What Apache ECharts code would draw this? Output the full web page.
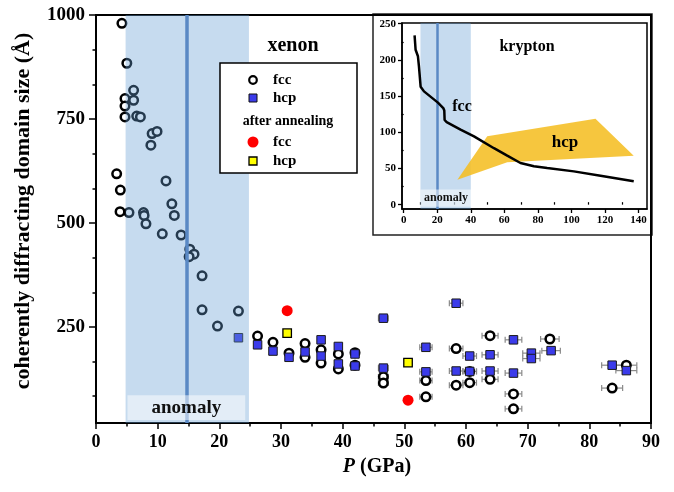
<!DOCTYPE html>
<html><head><meta charset="utf-8">
<script src="https://cdn.jsdelivr.net/npm/echarts@6/dist/echarts.min.js"></script>
<style>html,body{margin:0;padding:0;background:#fff}#c{width:674px;height:492px}</style>
</head><body><div id="c"></div>
<script>
// ---------- main (xenon) data ----------
const fccP   = [4.2,5.0,6.1,4.7,6.1,4.7,4.7,6.6,7.2,9.1,9.9,8.9,3.35,3.95,3.9,5.35,7.7,7.8,8.1,11.35,12.3,12.7,10.75,13.8,15.2,15.9,15.1,17.2,17.2,23.1,19.7,26.2,28.7,31.3,33.9,33.9,36.5,36.5,39.3,39.3,42.0,42.0,46.6,46.6,53.5,53.5,58.4,58.4,60.6,60.6,63.9,63.9,67.7,67.7,73.6,83.7,86.0];
const fccD   = [980,884,819,799,795,781,755,757,755,715,720,687,618,579,527,525,525,518,498,601,546,518,474,471,437,425,419,373,291,288,252,228,213,187,210,177,195,163,185,149,188,158,130,115,121,82,198,110,143,116,229,124,89,53,221,103,158];
const fccErr = [0,0,0,0,0,0,0,0,0,0,0,0,0,0,0,0,0,0,0,0,0,0,0,0,0,0,0,0,0,0,0,0,0,0.4,0.4,0.4,0.5,0.5,0.5,0.5,0.6,0.6,0.8,0.8,1.0,1.0,1.1,1.1,1.1,1.1,1.3,1.3,1.35,1.35,1.5,1.7,1.7];
const hcpP   = [23.1,26.2,28.7,31.3,33.9,36.5,36.5,39.3,39.3,42.0,42.0,46.6,46.6,53.5,53.5,58.4,58.4,60.6,60.6,63.9,63.9,67.7,67.7,70.6,70.6,73.8,83.7,86.0];
const hcpD   = [224,207,192,177,190,219,180,203,161,185,156,271,151,201,142,307,144,180,143,183,144,219,139,187,174,193,158,145];
const hcpErr = [0,0,0,0.4,0.4,0.5,0.5,0.5,0.5,0.6,0.6,0.8,0.8,1.0,1.0,1.1,1.1,1.1,1.1,1.3,1.3,1.35,1.35,1.4,1.4,1.5,1.7,1.7];
const annFccP = [31.0,50.6];
const annFccD = [289,74];
const annHcpP = [31.0,50.6];
const annHcpD = [235,164];
const yTicks = [250,500,750,1000];
const yMinor = [83.33,166.67,333.33,416.67,583.33,666.67,833.33,916.67];
const anomalyBand = [4.8,24.8];
const anomalyLine = 14.7;

// ---------- inset (krypton) data ----------
const krP = [6.5,7.1,8.5,9.1,10.1,12.1,20.4,23.6,24.2,24.4,25.6,33.9,41.9,53.8,61.7,69.6,77.6,85.5,101.4,117.3,137.1];
const krD = [234,214,205,191,163,156.5,141,133.5,130,117,114,103.6,94.4,78,67.7,57.6,53,50.6,46,40,32.2];
const hcpRegionP = [32,49.8,114.3,137.1,61.7];
const hcpRegionD = [34.5,94.4,118.8,67.7,58.5];
const insetXTicks = [0,20,40,60,80,100,120,140];
const insetXMinor = [10,30,50,70,90,110,130];
const insetYTicks = [0,50,100,150,200,250];
const insetYMinor = [25,75,125,175,225];
const insetBand = [10,40];
const insetLine = 20;

const FF = '"Liberation Serif","Times New Roman",serif';
const zip3 = (a,b,c) => a.map((v,i)=>[v,b[i],c ? c[i] : 0]);
const bandColor = 'rgba(100,157,211,0.37)';
const lineColor = '#5a89c4';
const plain = v => String(v);

function errRender(params, api){
  const p = api.value(0), d = api.value(1), e = api.value(2);
  const a = api.coord([p-e,d]), b = api.coord([p+e,d]);
  const h = 3;
  const style = {stroke:'#8a8a8a', lineWidth:1.2};
  return {type:'group', children:[
    {type:'line', shape:{x1:a[0],y1:a[1],x2:b[0],y2:b[1]}, style},
    {type:'line', shape:{x1:a[0],y1:a[1]-h,x2:a[0],y2:a[1]+h}, style},
    {type:'line', shape:{x1:b[0],y1:b[1]-h,x2:b[0],y2:b[1]+h}, style}
  ]};
}

const axisLineMain = {show:true, onZero:false, lineStyle:{color:'#000', width:2}};
const axisLineInset = {show:true, onZero:false, lineStyle:{color:'#000', width:1.5}};
const labMain = {fontFamily:FF, fontWeight:'bold', fontSize:19, color:'#000', formatter:plain};
const labInset = {fontFamily:FF, fontWeight:'bold', fontSize:11, color:'#000', formatter:plain};

const option = {
  animation:false,
  backgroundColor:'#fff',
  grid:[
    {left:96, top:15, width:555, height:408, show:true, borderColor:'#000', borderWidth:2, backgroundColor:'transparent'},
    {left:402, top:23, width:245, height:186, show:true, borderColor:'#000', borderWidth:1.5, backgroundColor:'#fff'}
  ],
  xAxis:[
    {gridIndex:0, type:'value', min:0, max:90, interval:10,
     axisLine:axisLineMain,
     axisTick:{show:true, inside:false, length:6, lineStyle:{color:'#000', width:1.5}},
     minorTick:{show:true, splitNumber:2, length:3.5, lineStyle:{color:'#000', width:1.5}},
     axisLabel:Object.assign({margin:10}, labMain, {fontSize:18}),
     splitLine:{show:false}, minorSplitLine:{show:false}},
    {gridIndex:1, type:'value', min:-1, max:145,
     axisLine:axisLineInset,
     axisTick:{show:true, customValues:insetXTicks, length:4, lineStyle:{color:'#000', width:1.3}},
     axisLabel:Object.assign({customValues:insetXTicks, margin:6}, labInset),
     splitLine:{show:false}},
    {gridIndex:1, type:'value', min:-1, max:145,
     axisLine:{show:false},
     axisTick:{show:true, customValues:insetXMinor, length:2.5, lineStyle:{color:'#000', width:1.2}},
     axisLabel:{show:false}, splitLine:{show:false}}
  ],
  yAxis:[
    {gridIndex:0, type:'value', min:19, max:1000, position:'left',
     axisLine:axisLineMain,
     axisTick:{show:true, customValues:yTicks, length:7, lineStyle:{color:'#000', width:1.5}},
     axisLabel:Object.assign({customValues:yTicks, margin:11}, labMain),
     splitLine:{show:false}},
    {gridIndex:0, type:'value', min:19, max:1000, position:'left', offset:0,
     axisLine:{show:false},
     axisTick:{show:true, customValues:yMinor, length:3.5, lineStyle:{color:'#000', width:1.5}},
     axisLabel:{show:false}, splitLine:{show:false}},
    {gridIndex:1, type:'value', min:-6, max:251, position:'left',
     axisLine:axisLineInset,
     axisTick:{show:true, customValues:insetYTicks, length:4, lineStyle:{color:'#000', width:1.3}},
     axisLabel:Object.assign({customValues:insetYTicks, margin:6}, labInset),
     splitLine:{show:false}},
    {gridIndex:1, type:'value', min:-6, max:251, position:'left', offset:0,
     axisLine:{show:false},
     axisTick:{show:true, customValues:insetYMinor, length:2.5, lineStyle:{color:'#000', width:1.2}},
     axisLabel:{show:false}, splitLine:{show:false}}
  ],
  series:[
    {type:'custom', xAxisIndex:0, yAxisIndex:0, z:1, renderItem:errRender,
     encode:{x:0,y:1}, data: zip3(fccP,fccD,fccErr).filter(r=>r[2]>0)},
    {type:'custom', xAxisIndex:0, yAxisIndex:0, z:1, renderItem:errRender,
     encode:{x:0,y:1}, data: zip3(hcpP,hcpD,hcpErr).filter(r=>r[2]>0)},
    {type:'scatter', xAxisIndex:0, yAxisIndex:0, z:2, symbol:'circle', symbolSize:8.5,
     itemStyle:{color:'#fff', borderColor:'#000', borderWidth:2.5, opacity:1},
     data: fccP.map((p,i)=>[p,fccD[i]])},
    {type:'scatter', xAxisIndex:0, yAxisIndex:0, z:3, symbol:'rect', symbolSize:8.5,
     itemStyle:{color:'#3b3bea', borderColor:'#1a1a1a', borderWidth:1, opacity:1},
     data: hcpP.map((p,i)=>[p,hcpD[i]])},
    {type:'scatter', xAxisIndex:0, yAxisIndex:0, z:3, symbol:'circle', symbolSize:11,
     itemStyle:{color:'#ff0000', opacity:1},
     data: annFccP.map((p,i)=>[p,annFccD[i]])},
    {type:'scatter', xAxisIndex:0, yAxisIndex:0, z:3, symbol:'rect', symbolSize:8.5,
     itemStyle:{color:'#ffff00', borderColor:'#000', borderWidth:1.3, opacity:1},
     data: annHcpP.map((p,i)=>[p,annHcpD[i]])},
    // anomaly band (over the points, translucent)
    {type:'scatter', xAxisIndex:0, yAxisIndex:0, z:10, data:[],
     markArea:{z:10, silent:true, itemStyle:{color:bandColor}, label:{show:false},
       data:[[{xAxis:anomalyBand[0]},{xAxis:anomalyBand[1]}]]},
     markLine:{z:11, silent:true, symbol:['none','none'], label:{show:false},
       lineStyle:{color:lineColor, width:3.5, type:'solid'},
       data:[{xAxis:anomalyLine}]}},
    {type:'scatter', xAxisIndex:0, yAxisIndex:0, z:12, data:[],
     markArea:{z:12, silent:true, itemStyle:{color:'rgba(255,255,255,0.5)'},
       label:{show:true, position:'inside', color:'#111', fontFamily:FF, fontWeight:'bold', fontSize:19},
       data:[[{name:'anomaly', xAxis:5.1, yAxis:26},{xAxis:24.2, yAxis:86}]]}},
    // inset
    {type:'scatter', xAxisIndex:1, yAxisIndex:2, z:2, data:[],
     markArea:{z:1, silent:true, itemStyle:{color:bandColor}, label:{show:false},
       data:[[{xAxis:insetBand[0]},{xAxis:insetBand[1]}]]},
     markLine:{z:2, silent:true, symbol:['none','none'], label:{show:false},
       lineStyle:{color:lineColor, width:2.5, type:'solid'},
       data:[{xAxis:insetLine}]}},
    {type:'scatter', xAxisIndex:1, yAxisIndex:2, z:3, data:[],
     markArea:{z:3, silent:true, itemStyle:{color:'rgba(255,255,255,0.5)'},
       label:{show:true, position:'inside', color:'#111', fontFamily:FF, fontWeight:'bold', fontSize:12},
       data:[[{name:'anomaly', xAxis:10, yAxis:-3},{xAxis:40.5, yAxis:21}]]}},
    {type:'custom', xAxisIndex:1, yAxisIndex:2, z:4,
     encode:{x:0,y:1},
     data: hcpRegionP.map((p,i)=>[p,hcpRegionD[i]]),
     renderItem:function(params, api){
       if (params.dataIndex !== 0) return;
       const pts = hcpRegionP.map((p,i)=>api.coord([p,hcpRegionD[i]]));
       return {type:'polygon', shape:{points:pts}, style:{fill:'rgba(245,190,35,0.88)'}};
     }},
    {type:'line', xAxisIndex:1, yAxisIndex:2, z:5, showSymbol:false, symbol:'none',
     lineStyle:{color:'#000', width:2.5},
     data: krP.map((p,i)=>[p,krD[i]])}
  ],
  graphic:[
    {type:'rect', z:-1, shape:{x:373, y:14, width:279, height:221}, style:{fill:'#fff', stroke:'#222', lineWidth:1.5}},
    {type:'text', z:100, x:293, y:46, style:{text:'xenon', font:'bold 20px '+FF, fill:'#000', align:'center', verticalAlign:'middle'}},
    {type:'text', z:100, x:23, y:211, rotation:Math.PI/2,
     style:{text:'coherently diffracting domain size (Å)', font:'bold 22px '+FF, fill:'#000', align:'center', verticalAlign:'middle'}},
    {type:'text', z:100, x:377, y:467,
     style:{rich:{i:{font:'italic bold 20px '+FF, fill:'#000'}, n:{font:'bold 20px '+FF, fill:'#000'}},
            text:'{i|P}{n| (GPa)}', align:'center', verticalAlign:'middle'}},
    // legend
    {type:'rect', z:100, shape:{x:220, y:63, width:137, height:110}, style:{fill:'#fff', stroke:'#000', lineWidth:1.5}},
    {type:'circle', z:101, shape:{cx:253, cy:80, r:3.8}, style:{fill:'#fff', stroke:'#000', lineWidth:2.2}},
    {type:'text', z:101, x:273, y:80, style:{text:'fcc', font:'bold 15px '+FF, fill:'#000', verticalAlign:'middle'}},
    {type:'rect', z:101, shape:{x:249, y:94, width:8, height:8}, style:{fill:'#3b3bea', stroke:'#111', lineWidth:1}},
    {type:'text', z:101, x:273, y:98, style:{text:'hcp', font:'bold 15px '+FF, fill:'#000', verticalAlign:'middle'}},
    {type:'text', z:101, x:288, y:121, style:{text:'after annealing', font:'bold 14px '+FF, fill:'#000', align:'center', verticalAlign:'middle'}},
    {type:'circle', z:101, shape:{cx:253, cy:142, r:5.5}, style:{fill:'#ff0000'}},
    {type:'text', z:101, x:273, y:142, style:{text:'fcc', font:'bold 15px '+FF, fill:'#000', verticalAlign:'middle'}},
    {type:'rect', z:101, shape:{x:249, y:157, width:8, height:8}, style:{fill:'#ffff00', stroke:'#000', lineWidth:1.3}},
    {type:'text', z:101, x:273, y:161, style:{text:'hcp', font:'bold 15px '+FF, fill:'#000', verticalAlign:'middle'}},
    // inset texts
    {type:'text', z:100, x:527, y:47, style:{text:'krypton', font:'bold 16px '+FF, fill:'#000', align:'center', verticalAlign:'middle'}},
    {type:'text', z:100, x:462, y:107, style:{text:'fcc', font:'bold 16px '+FF, fill:'#000', align:'center', verticalAlign:'middle'}},
    {type:'text', z:100, x:565, y:143, style:{text:'hcp', font:'bold 17px '+FF, fill:'#000', align:'center', verticalAlign:'middle'}}
  ]
};
const chart = echarts.init(document.getElementById('c'), null, {renderer:'canvas'});
chart.setOption(option);
</script>
</body></html>
